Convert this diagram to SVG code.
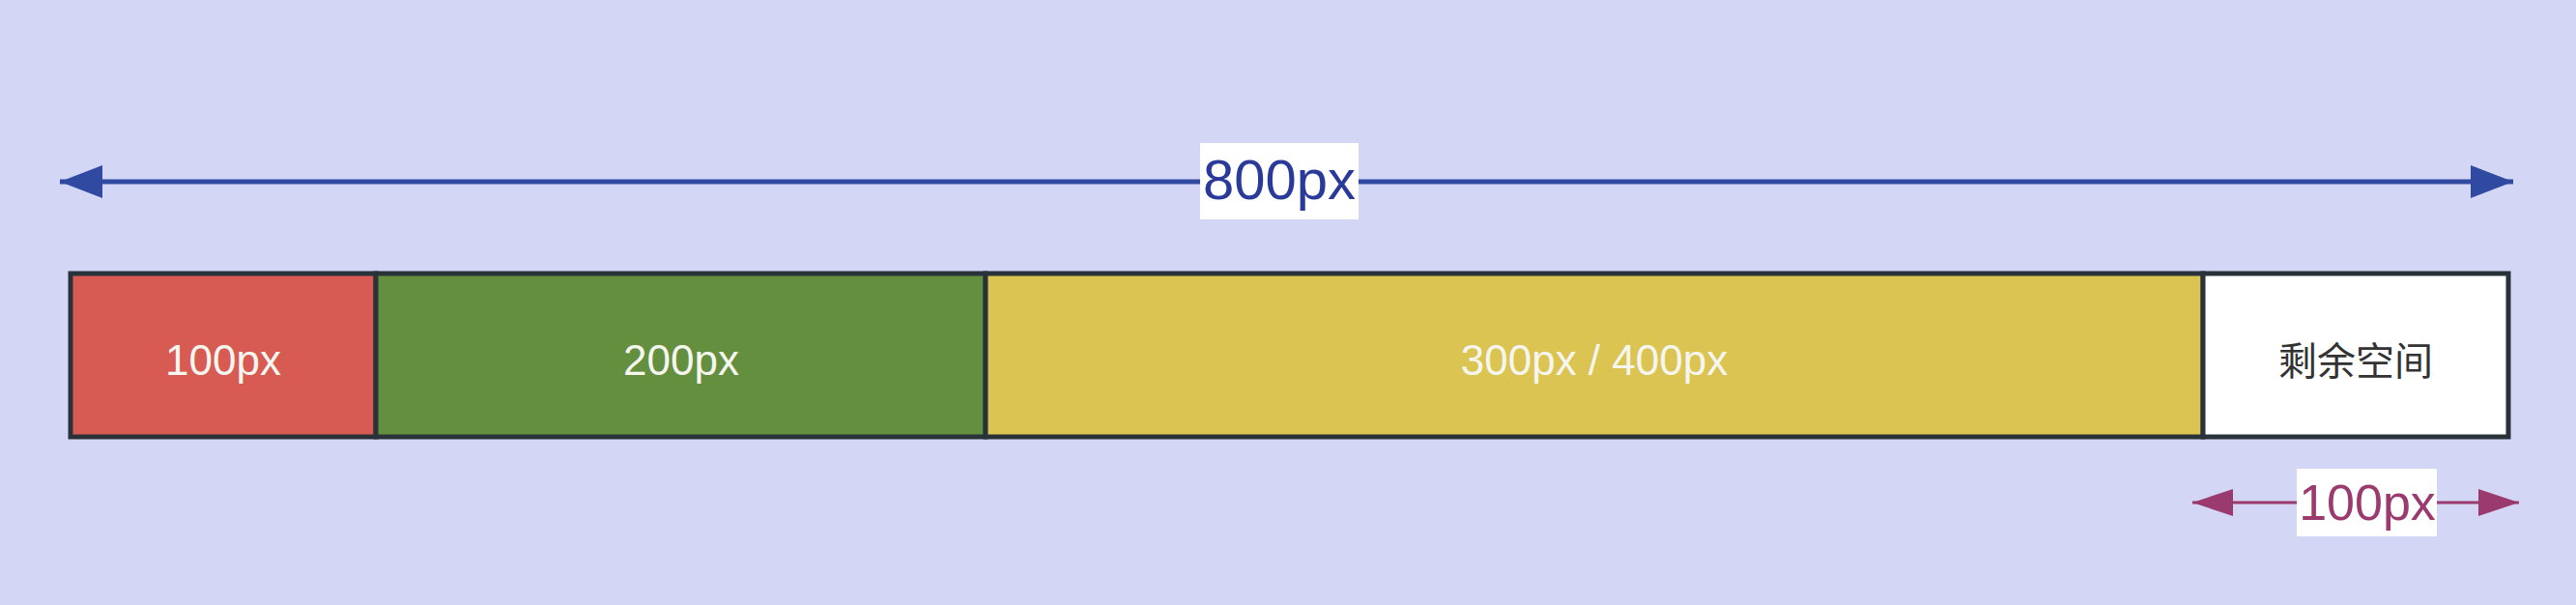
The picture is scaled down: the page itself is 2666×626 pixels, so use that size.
<svg xmlns="http://www.w3.org/2000/svg" width="2666" height="626" viewBox="0 0 2666 626">
<style>
.bar{stroke:#283238;stroke-width:5}
.lbl{font-family:"Liberation Sans","Noto Sans CJK SC",sans-serif;font-size:44px;fill:#f6f6f0;text-anchor:middle}
.dark{fill:#333333;font-size:40px}
.dim{font-family:"Liberation Sans",sans-serif;text-anchor:middle}
</style>
<defs>
<marker id="ab" markerUnits="userSpaceOnUse" markerWidth="44" markerHeight="34" refX="44" refY="17" orient="auto-start-reverse">
<path d="M0,0 L44,17 L0,34 Z" fill="#2f4aa0"/>
</marker>
<marker id="am" markerUnits="userSpaceOnUse" markerWidth="42" markerHeight="28" refX="42" refY="14" orient="auto-start-reverse">
<path d="M0,0 L42,14 L0,28 Z" fill="#9b3a6e"/>
</marker>
</defs>
<rect width="2666" height="626" fill="#d4d6f5"/>
<g id="connectors">
<path d="M62,188 H2601" stroke="#2f4aa0" stroke-width="5" fill="none" marker-start="url(#ab)" marker-end="url(#ab)"/>
<path d="M2269,520 H2607" stroke="#9b3a6e" stroke-width="3" fill="none" marker-start="url(#am)" marker-end="url(#am)"/>
</g>
<g id="dim-800">
<rect x="1242" y="148" width="164" height="79" fill="#ffffff"/>
<text class="dim" x="1324" y="206" font-size="58" fill="#2a3a9a">800px</text>
</g>
<g id="dim-100">
<rect x="2377" y="485" width="145" height="70" fill="#ffffff"/>
<text class="dim" x="2450" y="538" font-size="52" fill="#9b3a6e">100px</text>
</g>
<g id="seg-100">
<rect class="bar" x="73" y="283" width="316" height="169" fill="#d75b53"/>
<text class="lbl" x="231" y="388">100px</text>
</g>
<g id="seg-200">
<rect class="bar" x="389" y="283" width="631" height="169" fill="#648f3f"/>
<text class="lbl" x="705" y="388">200px</text>
</g>
<g id="seg-300">
<rect class="bar" x="1020" y="283" width="1260" height="169" fill="#dbc452"/>
<text class="lbl" x="1650" y="388">300px / 400px</text>
</g>
<g id="seg-rest">
<rect class="bar" x="2280" y="283" width="316" height="169" fill="#ffffff"/>
<text class="lbl dark" x="2438" y="388">剩余空间</text>
</g>
</svg>
